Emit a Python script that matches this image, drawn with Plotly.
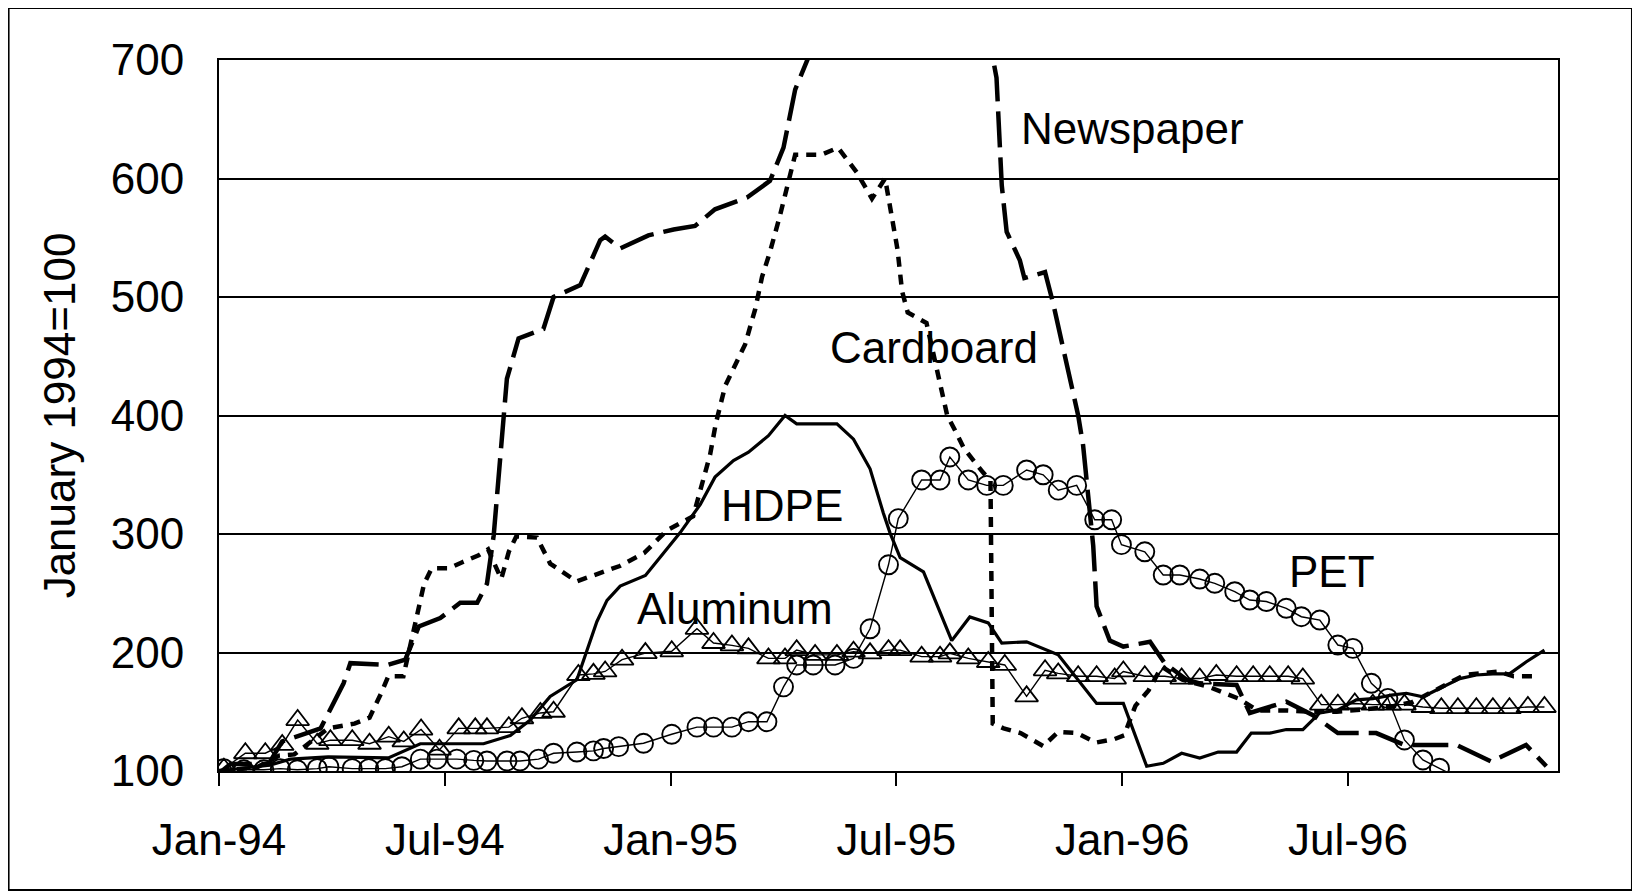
import plotly.graph_objects as go

# ---- data (x = months since Jan-94, y = index, January 1994 = 100) ----
tick_months = [0, 6, 12, 18, 24, 30]
tick_labels = ["Jan-94", "Jul-94", "Jan-95", "Jul-95", "Jan-96", "Jul-96"]

newspaper_month = [0, 0.31, 1.32, 1.68, 2.7, 3.31, 3.49, 4.47, 4.95, 5.31, 5.88, 6.41, 6.86, 7.12, 7.3,
                   7.47, 7.61, 7.65, 7.96, 8.62, 8.89, 9.6, 10.13, 10.26, 10.66, 11.41, 12.08, 12.65,
                   13.18, 14.03, 14.64, 15.0, 15.31, 15.71, 16.2, 20.2, 20.53, 20.66, 20.8, 20.93,
                   21.28, 21.4, 21.95, 22.17, 22.52, 22.83, 22.96, 23.23, 23.32, 23.67, 24.03, 24.74,
                   25.13, 25.71, 26.06, 27.04, 27.39, 28.36, 29.07, 29.73, 30.75, 31.5, 32.88, 33.81,
                   34.73, 35.27]
newspaper_index = [98, 106, 106, 125, 136, 174, 191, 189.5, 194, 222, 229, 242, 242, 258, 299,
                   370, 416, 431, 465, 473, 500, 510, 548, 551, 541, 552, 557, 560,
                   574, 584, 598, 626, 675, 706, 800, 800, 707, 685, 594, 555,
                   531, 516, 521, 494, 442, 400, 375, 290, 239, 210, 205, 209,
                   191, 177, 174, 172.6, 149, 158.5, 147, 132, 132, 122, 122, 108,
                   122, 104]

cardboard_month = [0, 1.0, 1.6, 2.0, 2.25, 2.9, 3.6, 4.0, 4.3, 4.5, 4.9, 5.1, 5.3, 5.45, 5.65, 6.1,
                   6.45, 6.9, 7.15, 7.5, 7.7, 7.9, 8.45, 8.8, 9.5, 10.0, 10.65, 11.3, 11.9, 12.6,
                   12.84, 13.05, 13.2, 13.45, 13.98, 14.25, 14.43, 14.64, 14.9, 15.1, 15.31, 16.0,
                   16.45, 16.95, 17.35, 17.7, 18.03, 18.15, 18.3, 18.8, 19.1, 19.35, 19.55, 19.8,
                   20.3, 20.5, 20.56, 20.85, 21.3, 21.9, 22.3, 22.8, 23.3, 23.8, 24.05, 24.35,
                   24.7, 25.05, 25.6, 26.3, 27.1, 27.6, 28.4, 29.0, 29.7, 30.4, 31.1, 31.7, 32.4,
                   33.1, 34.0, 34.4, 34.9]
cardboard_index = [100, 103, 113, 114, 120, 136, 140, 145, 165, 180, 180, 208, 240, 258, 271, 271,
                   276, 282, 287, 262, 285, 298, 297, 275, 260, 266, 273, 284, 303, 315,
                   343, 367, 393, 425, 460, 490, 517, 538, 568, 592, 620, 620,
                   626, 605, 583, 600, 540, 505, 487, 478, 433, 400, 388, 372,
                   352, 345, 140, 136, 132, 121, 133, 132, 124, 127, 130, 155,
                   168, 188, 177, 171, 161, 151, 151, 150, 150, 152, 154, 158, 170,
                   181, 184, 180, 180]

hdpe_month = [0, 0.9, 1.35, 1.9, 2.9, 4.5, 5.35, 7.03, 7.74, 8.27, 8.8, 9.51, 9.78, 10.04, 10.31,
              10.66, 11.33, 11.72, 12.25, 12.79, 13.18, 13.67, 14.07, 14.6, 15.04, 15.35, 16.42,
              16.86, 17.3, 17.65, 17.83, 18.1, 18.72, 19.47, 19.95, 20.44, 20.8, 21.46, 22.3,
              23.32, 24.03, 24.65, 25.09, 25.58, 26.06, 26.55, 27.04, 27.43, 27.92, 28.36, 28.8,
              29.25, 29.73, 30.22, 30.66, 31.15, 31.55, 31.99, 32.52, 32.97, 33.41, 33.85, 34.29,
              34.73, 35.22]
hdpe_index = [100, 103, 105, 110, 112, 111, 123, 123, 130, 143, 163, 177, 202, 226, 244,
              256, 265, 280, 301, 325, 348, 362, 369, 383, 400, 393, 393,
              380, 355, 318, 301, 280, 268, 210, 230, 225, 208, 209, 198,
              157, 157, 104, 106.5, 115, 111, 116, 116, 132, 132, 135, 135,
              149, 151.5, 160, 161, 164, 165.6, 162.7, 171, 178, 181, 182, 182,
              192, 202]

pet_month = [0.13, 0.66, 1.19, 1.63, 2.08, 2.61, 2.92, 3.54, 3.98, 4.42, 4.86, 5.35, 5.79, 6.32,
             6.77, 7.12, 7.65, 8.0, 8.49, 8.89, 9.51, 9.95, 10.22, 10.62, 11.28, 12.03, 12.7,
             13.14, 13.63, 14.07, 14.56, 15.0, 15.35, 15.79, 16.37, 16.86, 17.3, 17.79, 18.05,
             18.67, 19.16, 19.42, 19.91, 20.4, 20.84, 21.46, 21.9, 22.3, 22.79, 23.27, 23.72,
             23.98, 24.6, 25.09, 25.53, 26.06, 26.46, 26.99, 27.39, 27.83, 28.36, 28.76, 29.25,
             29.73, 30.13, 30.62, 31.06, 31.5, 31.99, 32.43, 33.3]
pet_index = [102, 101, 101, 102, 101, 102, 103.6, 102, 102, 102, 103.6, 110, 110, 110,
             109, 108.5, 108.5, 108.5, 110, 115, 116, 117, 119, 120.6, 123.4, 131, 137,
             137, 137, 141.6, 141.6, 171, 189.5, 189.5, 189.5, 195, 220, 274, 313,
             345.6, 345.6, 365, 345.6, 341, 341, 354, 350, 337, 341, 312, 312,
             291, 285, 265.4, 265.4, 262, 258.4, 251.3, 244.3, 243, 237.3, 230.2, 227.4,
             206.3, 203.5, 174, 161.3, 126.2, 109.3, 102.3, 88]

aluminum_month = [0.13, 0.70, 1.23, 1.68, 2.09, 2.61, 2.96, 3.54, 4.0, 4.51, 4.91, 5.37, 5.86, 6.37,
                  6.81, 7.12, 7.7, 8.05, 8.54, 8.89, 9.55, 9.95, 10.26, 10.71, 11.33, 12.03, 12.7,
                  13.14, 13.63, 14.07, 14.6, 15.04, 15.35, 15.84, 16.42, 16.86, 17.3, 17.79, 18.1,
                  18.67, 19.16, 19.42, 19.91, 20.44, 20.88, 21.46, 21.95, 22.3, 22.83, 23.32, 23.8,
                  24.03, 24.6, 25.13, 25.58, 26.06, 26.5, 27.04, 27.48, 27.92, 28.41, 28.8, 29.29,
                  29.73, 30.18, 30.66, 31.11, 31.5, 31.99, 32.48, 32.92, 33.41, 33.85, 34.29, 34.78,
                  35.22]
aluminum_index = [102, 115, 115, 122, 143, 123, 126, 126, 123, 129, 125, 135, 118, 136,
                  136, 136, 137, 144.5, 149, 150, 181, 182, 184, 194, 199.5, 201, 220,
                  208, 206, 203.5, 195, 195, 202, 198, 198, 200.7, 199.3, 202, 202,
                  196.5, 196.5, 199.3, 195, 192, 189.5, 163, 185, 182.4, 180, 180, 178,
                  184, 180, 180, 178, 178, 181, 180, 180, 180, 180, 178, 156,
                  156, 157, 156, 156, 156, 154, 153, 153, 153, 153, 153, 154,
                  154]

labels = ["Newspaper", "Cardboard", "HDPE", "Aluminum", "PET"]
label_month = [21.26, 16.18, 13.28, 11.06, 28.37]
label_index = [642, 457, 324, 237, 268]

# ---- figure ----
FONT = "Liberation Sans, Arial, sans-serif"
fig = go.Figure()

fig.add_trace(go.Scatter(x=aluminum_month, y=aluminum_index, mode="lines+markers", name="Aluminum",
                         line=dict(color="black", width=1.4),
                         marker=dict(symbol="triangle-up-open", size=20, color="black",
                                     line=dict(width=1.8, color="black"))))
fig.add_trace(go.Scatter(x=pet_month, y=pet_index, mode="lines+markers", name="PET",
                         line=dict(color="black", width=1.4),
                         marker=dict(symbol="circle-open", size=19, color="black",
                                     line=dict(width=1.9, color="black"))))
fig.add_trace(go.Scatter(x=hdpe_month, y=hdpe_index, mode="lines", name="HDPE",
                         line=dict(color="black", width=3.2)))
fig.add_trace(go.Scatter(x=cardboard_month, y=cardboard_index, mode="lines", name="Cardboard",
                         line=dict(color="black", width=4.5, dash="10px,8px")))
fig.add_trace(go.Scatter(x=newspaper_month, y=newspaper_index, mode="lines", name="Newspaper",
                         line=dict(color="black", width=4.5, dash="36px,10px")))

for t, mx, vy in zip(labels, label_month, label_index):
    fig.add_annotation(x=mx, y=vy, text=t, showarrow=False, xanchor="left", yanchor="middle",
                       font=dict(family=FONT, size=44, color="black"))

# outer chart border
fig.add_shape(type="rect", xref="paper", yref="paper",
              x0=-0.15715, x1=1.05524, y0=-0.16737, y1=1.07314,
              line=dict(color="black", width=2), layer="below")

fig.update_layout(
    width=1640, height=892,
    margin=dict(l=210.5, r=90, t=52, b=129),
    paper_bgcolor="white", plot_bgcolor="white",
    showlegend=False,
    font=dict(family=FONT, size=44, color="black"),
)
fig.update_xaxes(range=[0, 35.58], tickmode="array", tickvals=tick_months, ticktext=tick_labels,
                 ticks="outside", ticklen=13, tickwidth=1.5, tickcolor="black",
                 showline=True, linecolor="black", linewidth=2, mirror=True,
                 showgrid=False, zeroline=False, ticklabelstandoff=16, automargin=False,
                 tickfont=dict(family=FONT, size=44, color="black"))
fig.update_yaxes(range=[100, 700], tickmode="array", tickvals=[100, 200, 300, 400, 500, 600, 700],
                 ticks="", showline=True, linecolor="black", linewidth=2, mirror=True,
                 showgrid=True, gridcolor="black", gridwidth=1.7, zeroline=False,
                 ticklabelstandoff=24, automargin=False,
                 tickfont=dict(family=FONT, size=44, color="black"),
                 title=dict(text="January 1994=100", standoff=21,
                            font=dict(family=FONT, size=44, color="black")))

fig.write_html("out.html")
